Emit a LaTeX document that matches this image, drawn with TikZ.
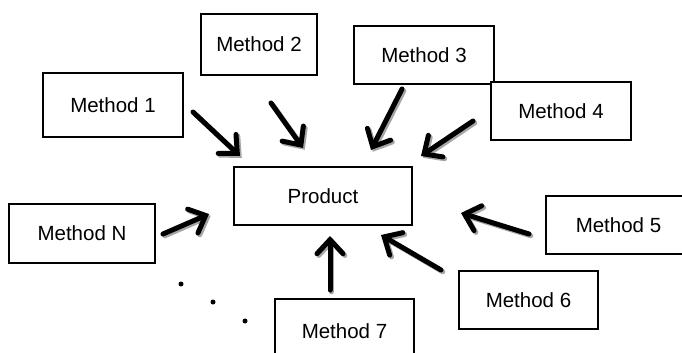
\documentclass[tikz,border=0pt]{standalone}
\usepackage{fontspec}
\setmainfont{Liberation Sans}
\usetikzlibrary{arrows.meta}
\tikzset{
  box/.style={draw=black, line width=2pt, fill=white, inner sep=0pt},
  lbl/.style={font=\fontsize{20.5}{24}\selectfont},
  arrowshadow/.style={draw=black!35, line width=5pt, line cap=round,
    -{Straight Barb[length=14pt,width=26pt,line cap=round]}},
  arrowmain/.style={draw=black, line width=5pt, line cap=round,
    -{Straight Barb[length=14pt,width=26pt,line cap=round]}},
  dot/.style={circle, fill=black, inner sep=0pt, minimum size=5pt}
}
\newcommand{\methodbox}[6]{% name, x1,y1,x2,y2, text
  \node[box, minimum width={#4-#2}, minimum height={#5-#3}, anchor=north west, lbl]
    (#1) at (#2,#3) {#6};
}
\newcommand{\shadowarrow}[2]{%
  \draw[arrowshadow, transform canvas={shift={(1.8pt,-1.8pt)}}] (#1) -- (#2);
  \draw[arrowmain] (#1) -- (#2);
}
\begin{document}
\begin{tikzpicture}[x=1pt,y=-1pt]
\useasboundingbox (0,0) rectangle (682,353);
\methodbox{m1}{42}{72}{182}{136}{Method 1}
\methodbox{m2}{200}{13}{316}{74}{Method 2}
\methodbox{m3}{353}{25}{493}{83}{Method 3}
\methodbox{m4}{490}{81}{630}{139}{Method 4}
\methodbox{prod}{233}{166}{411}{224}{Product}
\methodbox{mN}{8}{203}{154}{262}{Method N}
\methodbox{m5}{545}{195}{690}{253}{Method 5}
\methodbox{m6}{458}{270}{597}{328}{Method 6}
\methodbox{m7}{274}{298}{413}{362}{Method 7}
% arrow end points
\coordinate (s1) at (193,112); \coordinate (t1) at (240,156);
\coordinate (s2) at (271,103); \coordinate (t2) at (303,148);
\coordinate (s3) at (402,89);  \coordinate (t3) at (371,150);
\coordinate (s4) at (473,121); \coordinate (t4) at (421,156);
\coordinate (sN) at (163,234); \coordinate (tN) at (209,214);
\coordinate (s5) at (529,234); \coordinate (t5) at (461,213);
\coordinate (s6) at (441,270); \coordinate (t6) at (381,235);
\coordinate (s7) at (330,290); \coordinate (t7) at (330,236);
\shadowarrow{s1}{t1}
\shadowarrow{s2}{t2}
\shadowarrow{s3}{t3}
\shadowarrow{s4}{t4}
\shadowarrow{sN}{tN}
\shadowarrow{s5}{t5}
\shadowarrow{s6}{t6}
\shadowarrow{s7}{t7}
\node[dot] (d1) at (181,284) {};
\node[dot] (d2) at (213,302) {};
\node[dot] (d3) at (245,321) {};
\end{tikzpicture}
\end{document}
